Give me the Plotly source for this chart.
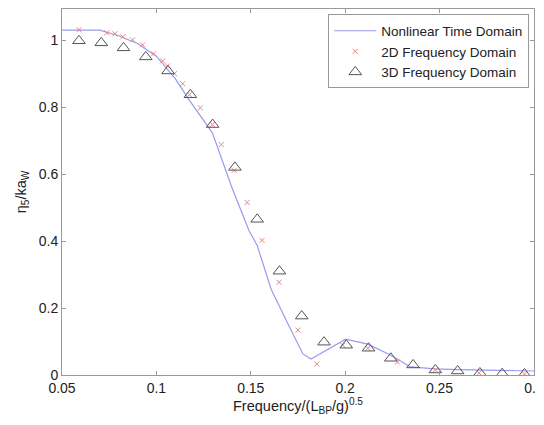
import plotly.graph_objects as go

# Nonlinear time domain (line)
td_x = [0.05, 0.07, 0.08, 0.09, 0.10, 0.11, 0.1175, 0.1296, 0.14, 0.149, 0.1534, 0.1608,
        0.17, 0.1776, 0.1819, 0.19, 0.2003, 0.212, 0.224, 0.2346, 0.2478, 0.26, 0.27, 0.28, 0.29, 0.30]
td_y = [1.03, 1.03, 1.013, 0.99, 0.952, 0.885, 0.82, 0.724, 0.56, 0.432, 0.387, 0.256,
        0.149, 0.063, 0.048, 0.075, 0.107, 0.092, 0.06, 0.024, 0.018, 0.016, 0.015, 0.014, 0.013, 0.012]

# 2D frequency domain (crosses)
f2_x = [0.059, 0.0737, 0.078, 0.0822, 0.0874, 0.0927, 0.0985, 0.1033, 0.1059, 0.1096,
        0.1139, 0.1175, 0.1233, 0.1296, 0.1344, 0.1412, 0.1481, 0.156, 0.165, 0.175,
        0.185, 0.1987, 0.212, 0.2277, 0.2478, 0.271, 0.295]
f2_y = [1.031, 1.022, 1.019, 1.010, 1.001, 0.986, 0.959, 0.938, 0.923, 0.900,
        0.870, 0.837, 0.798, 0.748, 0.688, 0.611, 0.515, 0.402, 0.277, 0.134,
        0.033, 0.089, 0.080, 0.039, 0.015, 0.006, 0.003]

# 3D frequency domain (triangles)
f3_x = [0.059, 0.0708, 0.0826, 0.0944, 0.1062, 0.118, 0.1298, 0.1416, 0.1534, 0.1652,
        0.177, 0.1888, 0.2006, 0.2124, 0.2242, 0.236, 0.2478, 0.2596, 0.2714, 0.2832, 0.295]
f3_y = [0.998, 0.992, 0.977, 0.950, 0.908, 0.837, 0.748, 0.620, 0.465, 0.310,
        0.176, 0.098, 0.089, 0.080, 0.050, 0.030, 0.015, 0.012, 0.006, 0.004, 0.003]

x_ticks = [0.05, 0.1, 0.15, 0.2, 0.25, 0.3]
x_tick_labels = ["0.05", "0.1", "0.15", "0.2", "0.25", "0.3"]
y_ticks = [0, 0.2, 0.4, 0.6, 0.8, 1.0]
y_tick_labels = ["0", "0.2", "0.4", "0.6", "0.8", "1"]

fig = go.Figure()
fig.add_trace(go.Scatter(x=td_x, y=td_y, mode="lines", name="Nonlinear Time Domain",
                         line=dict(color="#9a9af0", width=1.2)))
fig.add_trace(go.Scatter(x=f2_x, y=f2_y, mode="markers", name="2D Frequency Domain",
                         marker=dict(symbol="x-thin-open", size=5, color="#f08080",
                                     line=dict(color="#f08080", width=1))))
fig.add_trace(go.Scatter(x=f3_x, y=f3_y, mode="markers", name="3D Frequency Domain",
                         marker=dict(symbol="triangle-up-open", size=11, color="#555555",
                                     line=dict(color="#555555", width=1))))

axis_common = dict(showline=True, linecolor="#999999", linewidth=1, mirror="ticks",
                   ticks="inside", ticklen=4, tickcolor="#999999", showgrid=False,
                   zeroline=False, tickfont=dict(family="Arial", size=14, color="#222222"))

fig.update_layout(
    width=536, height=417,
    margin=dict(l=54, r=8, t=0, b=50),
    paper_bgcolor="white", plot_bgcolor="white",
    font=dict(family="Arial", color="#222222"),
    xaxis=dict(range=[0.05, 0.30005], tickvals=x_ticks, ticktext=x_tick_labels,
               ticklabeloverflow="allow",
               title=dict(text="Frequency/(L<sub>BP</sub>/g)<sup>0.5</sup>",
                          font=dict(size=14.5), standoff=3), **axis_common),
    yaxis=dict(range=[0, 1.093], tickvals=y_ticks, ticktext=y_tick_labels,
               title=dict(text="η<sub>5</sub>/ka<sub>W</sub>", font=dict(size=14.5), standoff=8),
               **axis_common),
    legend=dict(x=0.99, y=0.985, xanchor="right", yanchor="top",
                bgcolor="white", bordercolor="#999999", borderwidth=1,
                font=dict(family="Arial", size=13.5), itemwidth=42, tracegroupgap=0),
    showlegend=True,
)

fig.write_html("out.html")
